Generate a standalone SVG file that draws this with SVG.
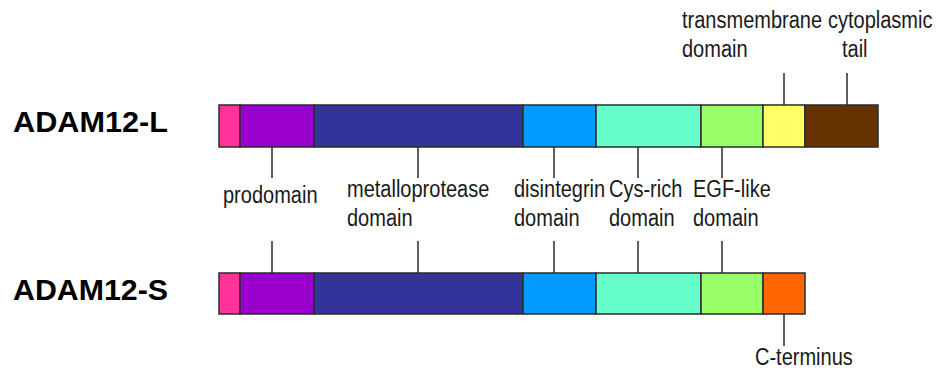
<svg xmlns="http://www.w3.org/2000/svg" width="938" height="373" viewBox="0 0 938 373">
  <style>
    .seg { stroke: #2b2b2b; stroke-width: 1.5; }
    .tick { stroke: #2b2b2b; stroke-width: 1.5; fill: none; }
    .lbl { font-family: "Liberation Sans", Arial, sans-serif; font-size: 23px; fill: #1a1a1a; }
    .name { font-family: "Liberation Sans", Arial, sans-serif; font-size: 30px; font-weight: bold; fill: #000; }
  </style>
  <rect width="938" height="373" fill="#ffffff"/>

  <!-- long isoform -->
  <g id="adam12-l">
    <text class="name" x="13" y="132" textLength="155" lengthAdjust="spacingAndGlyphs">ADAM12-L</text>
    <rect class="seg" x="219" y="105" width="21" height="42" fill="#FF3399"/>
    <rect class="seg" x="240" y="105" width="74" height="42" fill="#9900CC"/>
    <rect class="seg" x="314" y="105" width="209" height="42" fill="#333399"/>
    <rect class="seg" x="523" y="105" width="73" height="42" fill="#0099FF"/>
    <rect class="seg" x="596" y="105" width="105" height="42" fill="#66FFCC"/>
    <rect class="seg" x="701" y="105" width="62" height="42" fill="#99FF66"/>
    <rect class="seg" x="763" y="105" width="42" height="42" fill="#FFFF66"/>
    <rect class="seg" x="805" y="105" width="73" height="42" fill="#663300"/>
  </g>

  <!-- short isoform -->
  <g id="adam12-s">
    <text class="name" x="13" y="300" textLength="155" lengthAdjust="spacingAndGlyphs">ADAM12-S</text>
    <rect class="seg" x="219" y="273" width="21" height="41" fill="#FF3399"/>
    <rect class="seg" x="240" y="273" width="74" height="41" fill="#9900CC"/>
    <rect class="seg" x="314" y="273" width="209" height="41" fill="#333399"/>
    <rect class="seg" x="523" y="273" width="73" height="41" fill="#0099FF"/>
    <rect class="seg" x="596" y="273" width="105" height="41" fill="#66FFCC"/>
    <rect class="seg" x="701" y="273" width="62" height="41" fill="#99FF66"/>
    <rect class="seg" x="763" y="273" width="42" height="41" fill="#FF6600"/>
  </g>

  <!-- domain labels: a narrow face, made by squeezing the regular one -->
  <g id="label-prodomain">
    <text class="lbl" transform="translate(223 203) scale(0.87 1)">prodomain</text>
  </g>
  <g id="label-metalloprotease">
    <text class="lbl" transform="translate(347 197) scale(0.87 1)">metalloprotease</text>
    <text class="lbl" transform="translate(347 226) scale(0.87 1)">domain</text>
  </g>
  <g id="label-disintegrin">
    <text class="lbl" transform="translate(514 197) scale(0.87 1)">disintegrin</text>
    <text class="lbl" transform="translate(514 226) scale(0.87 1)">domain</text>
  </g>
  <g id="label-cys-rich">
    <text class="lbl" transform="translate(609 197) scale(0.87 1)">Cys-rich</text>
    <text class="lbl" transform="translate(609 226) scale(0.87 1)">domain</text>
  </g>
  <g id="label-egf-like">
    <text class="lbl" transform="translate(693 197) scale(0.87 1)">EGF-like</text>
    <text class="lbl" transform="translate(693 226) scale(0.87 1)">domain</text>
  </g>
  <g id="label-transmembrane">
    <text class="lbl" transform="translate(682 28) scale(0.87 1)">transmembrane</text>
    <text class="lbl" transform="translate(682 57) scale(0.87 1)">domain</text>
  </g>
  <g id="label-cytoplasmic">
    <text class="lbl" transform="translate(828 28) scale(0.87 1)">cytoplasmic</text>
    <text class="lbl" transform="translate(842 57) scale(0.87 1)">tail</text>
  </g>
  <g id="label-c-terminus">
    <text class="lbl" transform="translate(755 365) scale(0.87 1)">C-terminus</text>
  </g>

  <!-- leader lines -->
  <g id="connectors">
    <path class="tick" d="M272 147V178 M418 147V178 M554 147V178 M638 147V178 M722 147V178"/>
    <path class="tick" d="M784 73V105 M847 73V105"/>
    <path class="tick" d="M272 241V273 M418 241V273 M554 241V273 M638 241V273 M722 241V273"/>
    <path class="tick" d="M784 314V346"/>
  </g>
</svg>
